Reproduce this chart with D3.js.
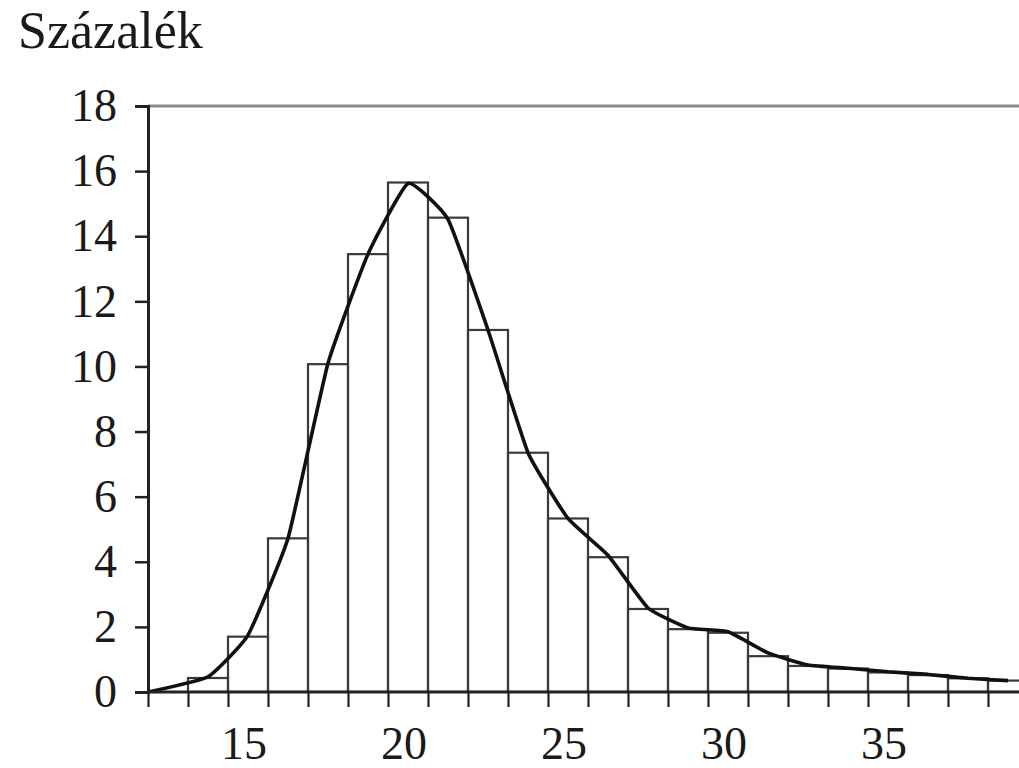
<!DOCTYPE html>
<html>
<head>
<meta charset="utf-8">
<script src="https://cdn.jsdelivr.net/npm/d3@7"></script>
<style>
  html, body { margin: 0; padding: 0; background: #fff; }
  svg { display: block; }
  svg text { font-family: "Liberation Serif", "Times New Roman", Times, serif !important; fill: #1a1a1a; }
</style>
</head>
<body>
<svg id="chart" width="1019" height="768"></svg>
<script>
// ---- data ----
const yLabel = "Százalék";
const yTicks = [0, 2, 4, 6, 8, 10, 12, 14, 16, 18];
const xTickLabels = [15, 20, 25, 30, 35];
const binWidth = 1.25;
const binStarts = [13.25, 14.5, 15.75, 17, 18.25, 19.5, 20.75, 22, 23.25, 24.5, 25.75, 27,
                   28.25, 29.5, 30.75, 32, 33.25, 34.5, 35.75, 37, 38.25];
const barValues = [0.43, 1.70, 4.72, 10.07, 13.45, 15.65, 14.57, 11.12, 7.35, 5.33, 4.14, 2.55,
                   1.93, 1.82, 1.10, 0.80, 0.72, 0.60, 0.52, 0.42, 0.35];
const lineX = [12, 13.875, 15.125, 16.375, 17.625, 18.875, 20.125, 21.375, 22.625, 23.875, 25.125,
               26.375, 27.625, 28.875, 30.125, 31.375, 32.625, 33.875, 35.125, 36.375, 37.625, 38.875];
const lineValues = [0, 0.47, 1.75, 4.72, 10.1, 13.45, 15.62, 14.52, 11.12, 7.35, 5.33, 4.2,
                    2.58, 1.97, 1.85, 1.2, 0.83, 0.73, 0.62, 0.54, 0.42, 0.35];
const binEdgeTicks = [12].concat(binStarts);

// ---- layout ----
const FONT = '"Liberation Serif", "Times New Roman", Times, serif';
const svg = d3.select("#chart");
const mLeft = 148, mRight = 1019, mTop = 106, mBottom = 692;
const x = d3.scaleLinear().domain([12, 12 + (mRight - mLeft) / 32]).range([mLeft, mRight]);
const y = d3.scaleLinear().domain([0, 18]).range([mBottom, mTop]);

svg.append("defs").append("clipPath").attr("id", "clip")
  .append("rect").attr("x", mLeft).attr("y", mTop - 10).attr("width", mRight - mLeft).attr("height", mBottom - mTop + 10);

const plot = svg.append("g").attr("clip-path", "url(#clip)");

// bars
plot.selectAll("rect.bar").data(binStarts).enter().append("rect")
  .attr("class", "bar")
  .attr("x", d => x(d))
  .attr("width", d => x(d + binWidth) - x(d))
  .attr("y", (d, i) => y(barValues[i]))
  .attr("height", (d, i) => y(0) - y(barValues[i]))
  .attr("fill", "none")
  .attr("stroke", "#3a3a3a")
  .attr("stroke-width", 2.2);

// line
const line = d3.line().x((d, i) => x(lineX[i])).y(d => y(d)).curve(d3.curveCardinal.tension(0.6));
plot.append("path").datum(lineValues)
  .attr("d", line)
  .attr("fill", "none")
  .attr("stroke", "#111")
  .attr("stroke-width", 3.6)
  .attr("stroke-linejoin", "round");

// top border
svg.append("line").attr("x1", mLeft).attr("x2", mRight).attr("y1", mTop).attr("y2", mTop)
  .attr("stroke", "#8a8a8a").attr("stroke-width", 3);

// y axis
const yAxis = d3.axisLeft(y).tickValues(yTicks).tickSize(13).tickPadding(18);
const gy = svg.append("g").attr("transform", `translate(${mLeft},0)`).call(yAxis)
  .attr("font-family", FONT);
gy.select(".domain").attr("stroke", "#222").attr("stroke-width", 3);
gy.selectAll(".tick line").attr("stroke", "#222").attr("stroke-width", 2.5);
gy.selectAll(".tick text").attr("font-size", 46).style("font-family", FONT).attr("fill", "#1a1a1a");

// x axis: bin-edge tick marks
const xAxis = d3.axisBottom(x).tickValues(binEdgeTicks).tickSize(15).tickFormat("");
const gx = svg.append("g").attr("transform", `translate(0,${mBottom})`).call(xAxis);
gx.select(".domain").remove();
gx.selectAll(".tick line").attr("stroke", "#222").attr("stroke-width", 2.2);
svg.append("line").attr("x1", mLeft).attr("x2", mRight).attr("y1", mBottom).attr("y2", mBottom)
  .attr("stroke", "#222").attr("stroke-width", 3);

// x labels
svg.selectAll("text.xl").data(xTickLabels).enter().append("text")
  .attr("class", "xl")
  .attr("x", d => x(d))
  .attr("y", 759)
  .attr("text-anchor", "middle")
  .attr("font-size", 46)
  .style("font-family", FONT)
  .text(d => d);

// y label
svg.append("text").attr("x", 18).attr("y", 48).attr("font-size", 52)
  .style("font-family", FONT).text(yLabel);
</script>
</body>
</html>
